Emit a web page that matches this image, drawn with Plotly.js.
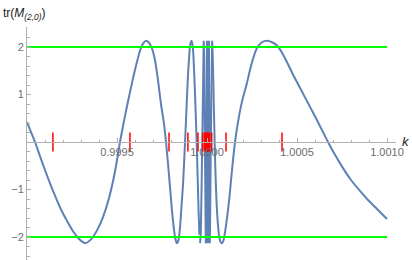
<!DOCTYPE html>
<html>
<head>
<meta charset="utf-8">
<script src="https://cdn.plot.ly/plotly-3.0.1.min.js"></script>
<style>html,body{margin:0;padding:0;background:#fff;}#chart{width:412px;height:260px;}</style>
</head>
<body>
<div id="chart"></div>
<script>
// curve samples: k values and tr(M_(2,0)) values
const kVals = [
0.9990000,0.9990222,0.9990444,0.9990722,0.9991000,0.9991278,0.9991556,0.9991889,0.9992222,0.9992556,
0.9992889,0.9993222,0.9993556,0.9993889,0.9994222,0.9994556,0.9994889,0.9995167,0.9995444,0.9995722,
0.9996000,0.9996278,0.9996444,0.9996611,0.9996778,0.9996944,0.9997111,0.9997278,0.9997444,0.9997611,
0.9997722,0.9997833,0.9997944,0.9998056,0.9998167,0.9998250,0.9998333,0.9998417,0.9998500,0.9998583,
0.9998667,0.9998750,0.9998833,0.9998917,0.9999000,0.9999072,0.9999139,0.9999206,0.9999278,0.9999350,
0.9999417,0.9999478,0.9999533,0.9999578,0.9999617,0.9999656,0.9999694,0.9999733,0.9999767,0.9999794,
0.9999817,0.9999839,0.9999867,0.9999889,0.9999911,0.9999933,0.9999956,0.9999972,0.9999989,0.9999997,
1.0000011,1.0000025,1.0000033,1.0000044,1.0000053,1.0000058,1.0000067,1.0000075,1.0000089,1.0000100,
1.0000108,1.0000122,1.0000139,1.0000158,1.0000178,1.0000206,1.0000233,1.0000261,1.0000283,1.0000311,
1.0000350,1.0000400,1.0000456,1.0000522,1.0000600,1.0000683,1.0000761,1.0000833,1.0000917,1.0001000,
1.0001111,1.0001250,1.0001389,1.0001556,1.0001722,1.0001944,1.0002222,1.0002500,1.0002778,1.0003056,
1.0003333,1.0003611,1.0003889,1.0004167,1.0004444,1.0004778,1.0005167,1.0005444,1.0005722,1.0006056,
1.0006389,1.0006722,1.0007111,1.0007556,1.0008000,1.0008500,1.0008944,1.0009444,1.0010000
];
const trVals = [
0.42,0.21,0.0,-0.30,-0.59,-0.87,-1.13,-1.42,-1.66,-1.88,
-2.04,-2.13,-2.05,-1.86,-1.58,-1.18,-0.62,0.0,0.55,1.05,
1.52,1.92,2.07,2.13,2.09,1.97,1.72,1.30,0.80,0.38,
0.0,-0.45,-0.95,-1.45,-1.85,-2.05,-2.13,-2.06,-1.80,-1.35,
-0.90,-0.25,0.45,1.20,1.75,2.05,2.13,2.02,1.55,0.85,
0.10,-0.70,-1.45,-1.95,-2.13,-1.90,-1.10,0.0,1.10,1.85,
2.13,1.85,0.80,-0.50,-1.60,-2.13,-1.20,0.50,2.00,2.13,
1.00,-1.20,-2.13,-0.50,1.50,2.13,0.30,-2.13,-0.30,1.80,
2.13,0.80,-1.20,-2.13,-1.50,-0.20,1.20,1.95,2.13,1.90,
1.30,0.40,-0.45,-1.20,-1.70,-2.00,-2.11,-2.13,-2.07,-1.90,
-1.60,-1.15,-0.59,0.0,0.42,0.85,1.25,1.68,1.98,2.10,
2.13,2.10,2.03,1.88,1.68,1.42,1.14,0.94,0.74,0.50,
0.25,0.0,-0.27,-0.55,-0.80,-1.03,-1.22,-1.41,-1.62
];
// special k values marked in red on the axis
const markK = [0.999144,0.999572,0.999789,0.999894,0.999950,0.999976,0.999986,0.999992,0.999997,
1.000000,1.0000028,1.000005,1.0000072,1.0000139,1.0000261,1.0001056,1.0004167];
const markHalf = 0.2;
// reference band
const bandK = [0.999, 1.001];
const bandLevels = [2, -2];
// tick labels
const xTickVals = [0.9995, 1.0000, 1.0005, 1.0010];
const xTickText = ['0.9995', '1.0000', '1.0005', '1.0010'];
const yTickVals = [-2, -1, 1, 2];
const yTickText = ['\u22122', '\u22121', '1', '2'];

const yLo = -2.484, yHi = 2.421;

// smooth outer parts, straight segments in the dense middle
const denseLo = 0.99996, denseHi = 1.00003;
const idx = kVals.map((k, i) => i);
const leftI = idx.filter(i => kVals[i] <= denseLo + 1e-9);
const midI = idx.filter(i => kVals[i] >= 0.9999617 - 1e-9 && kVals[i] <= 1.0000311 + 1e-9);
const rightI = idx.filter(i => kVals[i] >= denseHi - 1e-9);
const curveLine = {color: '#5E81B5', width: 2};

const traces = [];
traces.push({x: leftI.map(i => kVals[i]), y: leftI.map(i => trVals[i]), mode: 'lines', type: 'scatter',
  line: Object.assign({shape: 'spline', smoothing: 0.8}, curveLine), hoverinfo: 'skip'});
traces.push({x: midI.map(i => kVals[i]), y: midI.map(i => trVals[i]), mode: 'lines', type: 'scatter',
  line: Object.assign({shape: 'linear'}, curveLine), hoverinfo: 'skip'});
traces.push({x: rightI.map(i => kVals[i]), y: rightI.map(i => trVals[i]), mode: 'lines', type: 'scatter',
  line: Object.assign({shape: 'spline', smoothing: 0.8}, curveLine), hoverinfo: 'skip'});
bandLevels.forEach(v => traces.push({x: bandK, y: bandK.map(() => v), mode: 'lines', type: 'scatter',
  line: {color: '#00FF00', width: 2}, hoverinfo: 'skip'}));
const mx = [], my = [];
markK.forEach(k => { mx.push(k, k, null); my.push(-markHalf, markHalf, null); });
traces.push({x: mx, y: my, mode: 'lines', type: 'scatter', line: {color: '#FF0000', width: 1.5}, hoverinfo: 'skip'});

const axisGray = '#b0b0b0';
const labelFont = {family: 'Liberation Sans, Arial, sans-serif', size: 11, color: '#6e6e6e'};
const layout = {
  width: 412, height: 260,
  margin: {l: 27, r: 16, t: 27, b: 0, pad: 0},
  paper_bgcolor: '#fff', plot_bgcolor: '#fff',
  showlegend: false,
  xaxis: {
    range: [0.999, 1.00105], anchor: 'free', position: (0 - yLo) / (yHi - yLo),
    showgrid: false, zeroline: false, showline: true, linecolor: axisGray, linewidth: 1,
    ticks: 'inside', ticklen: 4, tickcolor: axisGray, tickwidth: 1,
    tickmode: 'array', tickvals: xTickVals, ticktext: xTickText, tickfont: labelFont,
    minor: {tickmode: 'linear', tick0: 0.999, dtick: 0.0001, ticklen: 2.5, tickcolor: axisGray, ticks: 'inside'},
    fixedrange: true
  },
  yaxis: {
    range: [yLo, yHi],
    showgrid: false, zeroline: false, showline: true, linecolor: axisGray, linewidth: 1,
    ticks: 'inside', ticklen: 4, tickcolor: axisGray, tickwidth: 1,
    tickmode: 'array', tickvals: yTickVals, ticktext: yTickText, tickfont: labelFont,
    minor: {tickmode: 'linear', tick0: 0, dtick: 0.2, ticklen: 2.5, tickcolor: axisGray, ticks: 'inside'},
    fixedrange: true
  },
  annotations: [
    {text: 'tr(<i>M</i><sub><i>(2,0)</i></sub>)', xref: 'paper', yref: 'paper',
     x: -26 / 369, y: (260 - 4) / 233, xanchor: 'left', yanchor: 'top', showarrow: false,
     font: {family: 'Liberation Sans, Arial, sans-serif', size: 12, color: '#222'}},
    {text: '<i>k</i>', xref: 'paper', yref: 'paper',
     x: (406 - 27) / 369, y: (260 - 141) / 233, xanchor: 'center', yanchor: 'middle', showarrow: false,
     font: {family: 'Liberation Sans, Arial, sans-serif', size: 13, color: '#222'}}
  ]
};
Plotly.newPlot('chart', traces, layout, {staticPlot: true, displayModeBar: false});
</script>
</body>
</html>
